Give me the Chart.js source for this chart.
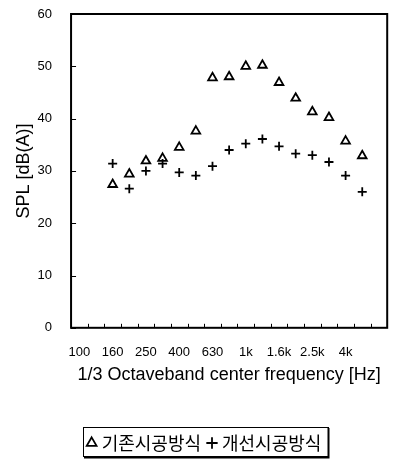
<!DOCTYPE html>
<html><head><meta charset="utf-8">
<script src="https://cdn.jsdelivr.net/npm/chart.js@4/dist/chart.umd.min.js"></script>
<style>html,body{margin:0;padding:0;background:#fff;}</style>
</head><body>
<canvas id="c" width="394" height="462"></canvas>
<script>
const axisBands = ['100','125','160','200','250','315','400','500','630','800','1k','1.25k','1.6k','2k','2.5k','3.15k','4k','5k','6.3k'];
const shownBandLabels = ['100','160','250','400','630','1k','1.6k','2.5k','4k'];
const measuredBands = ['160','200','250','315','400','500','630','800','1k','1.25k','1.6k','2k','2.5k','3.15k','4k','5k'];
const existingMethod = [27.4, 29.4, 31.9, 32.4, 34.5, 37.6, 47.8, 48.0, 50.0, 50.2, 46.9, 43.9, 41.3, 40.2, 35.7, 32.9];
const improvedMethod = [31.4, 26.6, 30.0, 31.4, 29.7, 29.1, 30.9, 34.0, 35.2, 36.1, 34.7, 33.3, 33.0, 31.7, 29.1, 26.0];
const yMin = 0, yMax = 60, yStep = 10;
const seriesNames = ['기존시공방식', '개선시공방식'];

const toPoints = vals => measuredBands.map((b, i) => ({x: b, y: vals[i]}));

const legendShift = {
  id: 'legendShift',
  afterLayout(chart) {
    const lg = chart.legend;
    if (lg) { lg.left += 9; lg.right += 9; }
  }
};

const framePlugin = {
  id: 'frame',
  afterDraw(chart) {
    const {ctx, chartArea: a, scales: {x, y}} = chart;
    ctx.save();
    ctx.strokeStyle = '#000';
    ctx.lineWidth = 2;
    ctx.strokeRect(a.left, a.top, a.right - a.left, a.bottom - a.top);
    ctx.lineWidth = 1;
    ctx.beginPath();
    for (let i = 0; i < axisBands.length - 1; i++) {
      const px = Math.round(x.getPixelForValue(i + 0.5)) + 0.5;
      ctx.moveTo(px, a.bottom); ctx.lineTo(px, a.bottom - 4);
    }
    y.ticks.forEach(t => {
      const py = Math.round(y.getPixelForValue(t.value)) + 0.5;
      ctx.moveTo(a.left, py); ctx.lineTo(a.left + 5, py);
    });
    ctx.stroke();
    const lg = chart.legend;
    if (lg && lg.legendHitBoxes && lg.legendHitBoxes.length) {
      const hb = lg.legendHitBoxes;
      const last = hb[hb.length - 1];
      const l = hb[0].left - 8, r = last.left + last.width + 6;
      const cy = hb[0].top + hb[0].height / 2;
      const t = cy - 16, b = cy + 13;
      ctx.lineWidth = 1;
      ctx.strokeRect(Math.round(l) + 0.5, Math.round(t) + 0.5, Math.round(r - l), Math.round(b - t));
      ctx.lineWidth = 2;
      ctx.beginPath();
      ctx.moveTo(Math.round(l) + 1, Math.round(b) + 1.5);
      ctx.lineTo(Math.round(r) + 1.5, Math.round(b) + 1.5);
      ctx.lineTo(Math.round(r) + 1.5, Math.round(t) + 1);
      ctx.stroke();
    }
    ctx.restore();
  }
};

new Chart(document.getElementById('c'), {
  type: 'line',
  data: {
    labels: axisBands,
    datasets: [
      {label: seriesNames[0], data: toPoints(existingMethod), showLine: false,
       pointStyle: 'triangle', pointRadius: 5, borderColor: '#000', backgroundColor: 'rgba(0,0,0,0)', borderWidth: 1.8, pointHoverRadius: 5},
      {label: seriesNames[1], data: toPoints(improvedMethod), showLine: false,
       pointStyle: 'cross', pointRadius: 4.5, borderColor: '#000', backgroundColor: 'rgba(0,0,0,0)', borderWidth: 1.8, pointHoverRadius: 4.5}
    ]
  },
  options: {
    responsive: false, animation: false, devicePixelRatio: 1,
    layout: {padding: {left: 5, right: 5, top: 14, bottom: 0}},
    plugins: {
      tooltip: {enabled: false},
      legend: {
        position: 'bottom',
        labels: {usePointStyle: true, boxWidth: 2, boxHeight: 8, padding: 10, color: '#000',
                 font: {family: '"Noto Sans CJK KR", "Noto Sans", sans-serif', size: 18}}
      }
    },
    scales: {
      x: {
        type: 'category', offset: true,
        afterFit: s => { s.paddingLeft = 0; s.paddingRight = 0; },
        grid: {display: false, drawTicks: false}, border: {display: false},
        ticks: {autoSkip: false, maxRotation: 0, padding: 17, color: '#000',
                font: {family: '"Liberation Sans", Arial, sans-serif', size: 13},
                callback: function(v) { const lab = this.getLabelForValue(v); return shownBandLabels.includes(lab) ? lab : ''; }},
        title: {display: true, text: '1/3 Octaveband center frequency [Hz]', color: '#000',
                font: {family: '"Liberation Sans", Arial, sans-serif', size: 18}, padding: {top: -13, bottom: 38}}
      },
      y: {
        min: yMin, max: yMax,
        afterFit: s => { s.paddingTop = 0; s.paddingBottom = 0; },
        grid: {display: false, drawTicks: false}, border: {display: false},
        ticks: {stepSize: yStep, padding: 19, color: '#000',
                font: {family: '"Liberation Sans", Arial, sans-serif', size: 13}},
        title: {display: true, text: 'SPL [dB(A)]', color: '#000',
                font: {family: '"Liberation Sans", Arial, sans-serif', size: 18}, padding: {top: 8, bottom: -16}}
      }
    }
  },
  plugins: [legendShift, framePlugin]
});
</script>
</body></html>
